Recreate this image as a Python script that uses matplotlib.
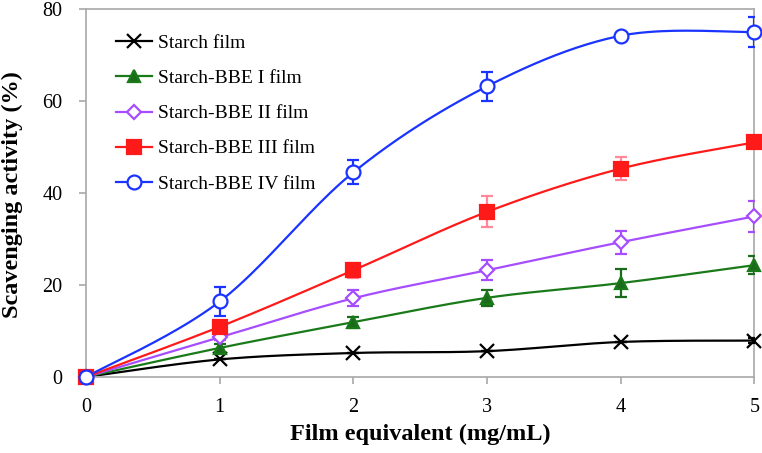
import numpy as np
import matplotlib
matplotlib.use("Agg")
import matplotlib.pyplot as plt

plt.rcParams['font.family'] = ['Liberation Serif', 'DejaVu Serif']

x = [0, 1, 2, 3, 4, 5]
names = ["Starch film", "Starch-BBE I film", "Starch-BBE II film",
         "Starch-BBE III film", "Starch-BBE IV film"]
starch = [0, 3.8, 5.2, 5.6, 7.6, 7.9]
starch_err = [0, 0, 0, 0, 0, 0.6]
bbe1 = [0, 6.3, 11.9, 17.2, 20.4, 24.3]
bbe1_err = [0, 0.8, 1.2, 1.8, 3.0, 2.0]
bbe2 = [0, 8.6, 17.1, 23.2, 29.3, 34.9]
bbe2_err = [0, 0.5, 1.7, 2.2, 2.5, 3.3]
bbe3 = [0, 10.9, 23.2, 35.9, 45.3, 51.0]
bbe3_err = [0, 0.5, 1.6, 3.4, 2.5, 0.6]
bbe4 = [0, 16.4, 44.5, 63.2, 74.2, 75.0]
bbe4_err = [0, 3.1, 2.6, 3.1, 0.6, 3.3]

series = [starch, bbe1, bbe2, bbe3, bbe4]
errs = [starch_err, bbe1_err, bbe2_err, bbe3_err, bbe4_err]
colors = ["#000000", "#1a7a1a", "#a64dff", "#ff1a1a", "#1a33ff"]
ecolors = ["#000000", "#1a6b1a", "#a64dff", "#ff8899", "#1a33ff"]
markers = ["x", "^", "D", "s", "o"]
mfc = ["#000000", "#1a6b1a", "white", "#ff1a1a", "white"]
msizes = [10, 9, 7.5, 10, 10]


def smooth(xs, ys, n=40, t=0.5):
    xs = np.asarray(xs, float); ys = np.asarray(ys, float)
    P = np.column_stack([xs, ys])
    ext = np.vstack([P[0], P, P[-1]])
    out = []
    for i in range(1, len(ext) - 2):
        p0, p1, p2, p3 = ext[i - 1], ext[i], ext[i + 1], ext[i + 2]
        m1 = t * (p2 - p0)
        m2 = t * (p3 - p1)
        s = np.linspace(0, 1, n)[:, None]
        h00 = 2 * s**3 - 3 * s**2 + 1
        h10 = s**3 - 2 * s**2 + s
        h01 = -2 * s**3 + 3 * s**2
        h11 = s**3 - s**2
        out.append(h00 * p1 + h10 * m1 + h01 * p2 + h11 * m2)
    c = np.vstack(out)
    return c[:, 0], c[:, 1]


fig = plt.figure(figsize=(7.62, 4.53), dpi=100)
ax = fig.add_axes([0.113, 0.168, 0.877, 0.812])

handles = []
for ys, er, c, ec, m, fc, ms, nm in zip(series, errs, colors, ecolors, markers, mfc, msizes, names):
    sx, sy = smooth(x, ys)
    ax.plot(sx, sy, color=c, lw=1.6, zorder=2)
    ax.errorbar(x, ys, yerr=er, fmt='none', ecolor=ec, elinewidth=1.6, capsize=4.5, capthick=1.6, zorder=3)
    mew = 1.6
    ax.plot(x, ys, linestyle='none', marker=m, markersize=ms, markerfacecolor=fc,
            markeredgecolor=c, markeredgewidth=mew, color=c, zorder=4, clip_on=False)
    lh, = ax.plot([], [], color=c, lw=1.6, marker=m, markersize=ms, markerfacecolor=fc,
                  markeredgecolor=c, markeredgewidth=mew)
    handles.append(lh)

ax.set_xlim(0, 5)
ax.set_ylim(0, 80)
ax.set_xticks([0, 1, 2, 3, 4, 5])
ax.set_yticks([0, 20, 40, 60, 80])
for s in ax.spines.values():
    s.set_color('#a8a8a8')
    s.set_linewidth(1.2)
ax.tick_params(axis='both', direction='out', color='#a8a8a8', length=5, width=1.2,
               labelsize=14.5)
ax.tick_params(axis='x', pad=10)
ax.tick_params(axis='y', pad=12)
ax.set_xlabel("Film equivalent (mg/mL)", fontsize=17.5, fontweight='bold')
ax.set_ylabel("Scavenging activity (%)", fontsize=17.5, fontweight='bold')
ax.xaxis.set_label_coords(0.5 * (86 + 754) / 762, 1 - 434 / 453, transform=fig.transFigure)
ax.yaxis.set_label_coords(12 / 762, 1 - 195 / 453, transform=fig.transFigure)
ax.xaxis.label.set_va('center')
ax.yaxis.label.set_va('center')

leg = ax.legend(handles, names, loc='upper left', bbox_to_anchor=(98 / 762, 1 - 17 / 453),
                bbox_transform=fig.transFigure, frameon=False,
                fontsize=14, handlelength=1.9, labelspacing=0.9, handletextpad=0.3)

fig.savefig("out.png", dpi=100)
